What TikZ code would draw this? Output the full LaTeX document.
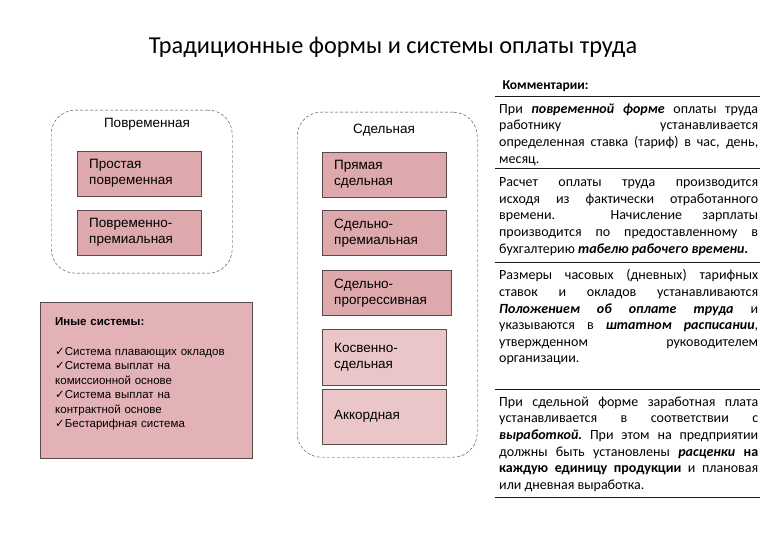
\documentclass[tikz,border=0pt]{standalone}
\usepackage{fontspec}
\setmainfont{Liberation Sans}
\newfontfamily\notefont{Carlito}
\newfontfamily\checkfont{DejaVu Sans}
\usetikzlibrary{positioning}
\definecolor{formfill}{HTML}{DDA9AD}
\definecolor{formlight}{HTML}{EBC6C8}
\definecolor{otherfill}{HTML}{E3B2B6}
\definecolor{edgegray}{HTML}{5A4A4C}
\definecolor{ink}{HTML}{1A1A1A}
\newcommand{\chk}{{\checkfont\fontsize{11.5}{10}\selectfont ✓}}
\newcommand{\bi}[1]{\textbf{\textit{#1}}}
\hyphenpenalty=10000
\exhyphenpenalty=10000

\begin{document}
\begin{tikzpicture}[x=1pt,y=-1pt,
  formbox/.style={draw=edgegray,fill=formfill,anchor=north west,minimum height=45pt,
    text width=100pt,inner xsep=12pt,align=left,font=\fontsize{13.5}{16}\selectfont},
  lightbox/.style={formbox,fill=formlight},
  container/.style={draw=ink!85,dash pattern=on 3pt off 2pt,rounded corners=24pt,
    anchor=north west,inner sep=0pt},
  headlabel/.style={font=\fontsize{13.5}{16}\selectfont},
  note/.style={anchor=north west,inner sep=0pt,text width=259pt,align=justify,
    font=\notefont\fontsize{14}{16.6}\selectfont},
  rulebar/.style={ink,line width=0.8pt}]
  \useasboundingbox[fill=white] (0,0) rectangle (780,540);
  % title
  \node[font=\notefont\fontsize{24.3}{28}\selectfont] (title) at (393,47)
    {Традиционные формы и системы оплаты труда};
  % time-based forms
  \node[container,minimum width=181pt,minimum height=163pt] (povr) at (51,110) {};
  \node[headlabel] (povrlab) at (147,124) {Повременная};
  \node[formbox] (prostaya) at (77,151) {Простая\\повременная};
  \node[formbox] (povrprem) at (77,210) {Повременно-\\премиальная};
  % piece-rate forms
  \node[container,minimum width=180pt,minimum height=345pt] (sdel) at (297,112) {};
  \node[headlabel] (sdellab) at (384,130) {Сдельная};
  \node[formbox] (pryamaya) at (322,152) {Прямая\\сдельная};
  \node[formbox] (sdelprem) at (322,210) {Сдельно-\\премиальная};
  \node[formbox,text width=105pt] (sdelprog) at (322,270) {Сдельно-\\прогрессивная};
  \node[lightbox,minimum height=56pt] (kosv) at (322,329) {Косвенно-\\сдельная};
  \node[lightbox,minimum height=55pt] (akkord) at (322,389) {Аккордная};
  % other systems
  \node[draw=edgegray,fill=otherfill,anchor=north west,minimum width=212pt,
    minimum height=156pt] (other) at (40,302) {};
  \node[anchor=north west,inner sep=0pt,text width=190pt,align=left,
    font=\fontsize{11.5}{14.4}\selectfont] (otherlist) at ([xshift=15pt,yshift=-15pt]other.north west)
    {\textbf{Иные системы:}\\[16pt]
     \chk Система плавающих окладов\\
     \chk Система выплат на\\комиссионной основе\\
     \chk Система выплат на\\контрактной основе\\
     \chk Бестарифная система};
  % comments
  \node[anchor=west,font=\notefont\bfseries\fontsize{13.5}{14}\selectfont] (commhead) at (499,86) {Комментарии:};
  \node[note] (note1) at (499,103.5) {При \bi{повременной форме} оплаты труда\linebreak
    работнику устанавливается\linebreak
    определенная ставка (тариф) в час, день,\linebreak месяц.};
  \node[note] (note2) at (499,177.5) {Расчет оплаты труда производится\linebreak
    исходя из фактически отработанного\linebreak
    времени. Начисление зарплаты\linebreak
    производится по предоставленному в\linebreak
    бухгалтерию \bi{табелю рабочего времени.}};
  \node[note] (note3) at (499,269.5) {Размеры часовых (дневных) тарифных\linebreak
    ставок и окладов устанавливаются\linebreak
    \bi{Положением об оплате труда} и\linebreak
    указываются в \bi{штатном расписании},\linebreak
    утвержденном руководителем\linebreak организации.};
  \node[note] (note4) at (499,396.5) {При сдельной форме заработная плата\linebreak
    устанавливается в соответствии с\linebreak
    \bi{выработкой.}\ При этом на предприятии\linebreak
    должны быть установлены \bi{расценки} \textbf{на}\linebreak
    \textbf{каждую единицу продукции} и плановая\linebreak
    или дневная выработка.};
  \foreach \ry in {96,168,262,389,497}
    \draw[rulebar] (495,\ry) -- (760,\ry);
\end{tikzpicture}
\end{document}
